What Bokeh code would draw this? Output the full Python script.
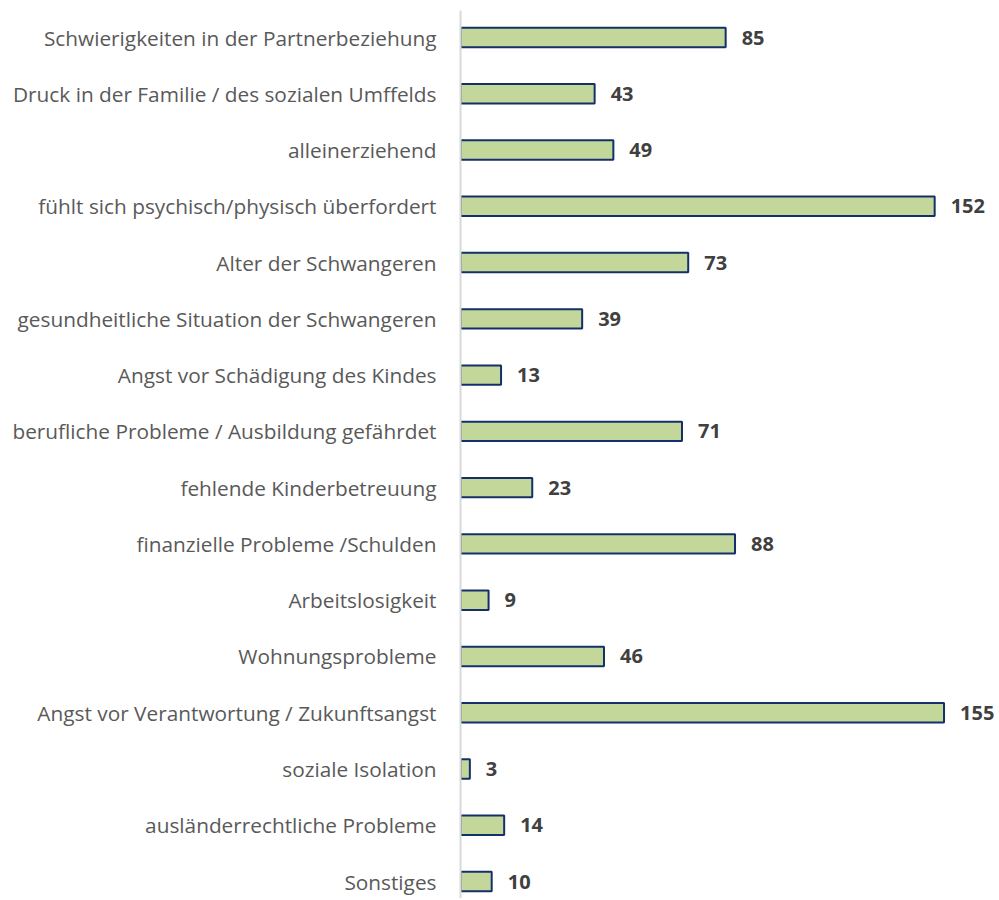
from bokeh.plotting import figure
from bokeh.models import ColumnDataSource, FixedTicker, Range1d
from bokeh.core.properties import value
from bokeh.embed import file_html
from bokeh.resources import INLINE

categories = [
    "Schwierigkeiten in der Partnerbeziehung",
    "Druck in der Familie / des sozialen Umffelds",
    "alleinerziehend",
    "fühlt sich psychisch/physisch überfordert",
    "Alter der Schwangeren",
    "gesundheitliche Situation der Schwangeren",
    "Angst vor Schädigung des Kindes",
    "berufliche Probleme / Ausbildung gefährdet",
    "fehlende Kinderbetreuung",
    "finanzielle Probleme /Schulden",
    "Arbeitslosigkeit",
    "Wohnungsprobleme",
    "Angst vor Verantwortung / Zukunftsangst",
    "soziale Isolation",
    "ausländerrechtliche Probleme",
    "Sonstiges",
]
values = [85, 43, 49, 152, 73, 39, 13, 71, 23, 88, 9, 46, 155, 3, 14, 10]

n = len(categories)
ypos = [n - 1 - i for i in range(n)]
src = ColumnDataSource(dict(
    y=ypos, v=values, half=[v / 2 for v in values],
    lab=[str(v) for v in values],
))

p = figure(width=995, height=898, output_backend="svg", toolbar_location=None,
           x_range=Range1d(0, 171.5), y_range=Range1d(-0.302, 15.48),
           min_border_left=460, min_border_right=0, min_border_top=10,
           min_border_bottom=0)
p.outline_line_color = None
p.xgrid.visible = False
p.ygrid.visible = False
p.xaxis.visible = False

p.rect(x="half", y="y", width="v", height=0.345, source=src,
       fill_color="#c4d79b", line_color="#14306a", line_width=2)

p.text(x="v", y="y", text="lab", source=src, x_offset=16,
       text_align="left", text_baseline="middle",
       text_font_size="20px", text_font_style="bold", text_color="#404040",
       text_font=value("Open Sans"))

ax = p.yaxis[0]
ax.ticker = FixedTicker(ticks=ypos)
ax.major_label_overrides = {y: c for y, c in zip(ypos, categories)}
ax.axis_line_color = "#d9d9d9"
ax.axis_line_width = 2
ax.major_tick_line_color = None
ax.minor_tick_line_color = None
ax.major_tick_out = 0
ax.minor_tick_out = 0
ax.major_label_standoff = 24
ax.major_label_text_font = "Open Sans"
ax.major_label_text_font_size = "20.8px"
ax.major_label_text_color = "#595959"

open("out.html", "w").write(file_html(p, INLINE))
